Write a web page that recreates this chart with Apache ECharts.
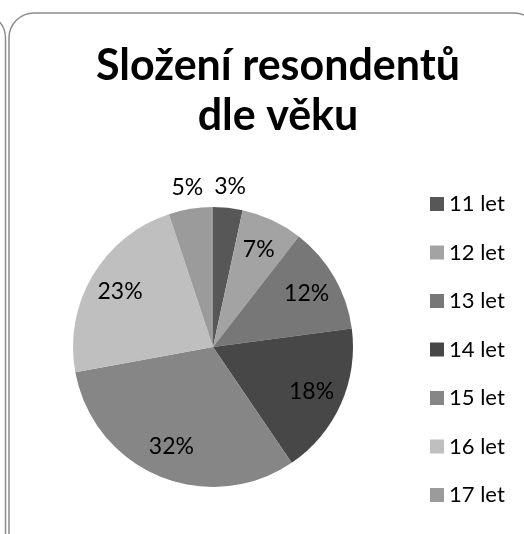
<!DOCTYPE html>
<html>
<head>
<meta charset="utf-8">
<script src="https://cdn.jsdelivr.net/npm/echarts@6/dist/echarts.min.js"></script>
<style>
  html, body { margin: 0; padding: 0; background: #fff; }
  #chart { width: 524px; height: 534px; }
</style>
</head>
<body>
<div id="chart"></div>
<script>
// age groups and their share of respondents
const categories = ["11 let", "12 let", "13 let", "14 let", "15 let", "16 let", "17 let"];
const shares = [3.4, 7.1, 12.4, 17.6, 31.6, 22.8, 5.1];
const colors = ["#575757", "#a3a3a3", "#777777", "#474747", "#868686", "#bfbfbf", "#9b9b9b"];
// the two thin slices get their labels above the pie
const outerLabelled = ["11 let", "17 let"];

const chart = echarts.init(document.getElementById("chart"));

const pieData = categories.map((name, i) => ({
  name: name,
  value: shares[i],
  itemStyle: { color: colors[i] },
}));

const labelFont = {
  fontFamily: "Lato",
  fontSize: 22,
  color: "#000",
};

// invisible copies of the pie, only used to place labels at other radii
const overlay = (radius, showFor) => ({
  type: "pie",
  center: [213, 347],
  radius: radius,
  startAngle: 90,
  clockwise: true,
  silent: true,
  percentPrecision: 0,
  avoidLabelOverlap: false,
  itemStyle: { color: "rgba(0,0,0,0)" },
  emphasis: { disabled: true },
  labelLine: { show: false },
  labelLayout: { hideOverlap: false },
  data: categories.map((name, i) => ({
    name: name,
    value: shares[i],
    label: { show: showFor(name) },
  })),
  label: Object.assign({ position: "inside", formatter: "{d}%" }, labelFont, { fontSize: 23 }),
});

const option = {
  animation: false,
  title: {
    text: "Složení resondentů\ndle věku",
    left: 273,
    top: 36,
    textAlign: "center",
    textStyle: {
      fontFamily: "Lato",
      fontWeight: "bold",
      fontSize: 43,
      lineHeight: 50,
      color: "#000",
    },
  },
  legend: {
    orient: "vertical",
    left: 425,
    top: 188,
    icon: "rect",
    itemWidth: 14,
    itemHeight: 14,
    itemGap: 26.5,
    data: categories,
    textStyle: labelFont,
    selectedMode: false,
  },
  graphic: [
    {
      // neighbouring frame, cut off on the left
      type: "rect",
      shape: { x: -300, y: 13, width: 305.5, height: 560, r: 25 },
      style: { fill: "none", stroke: "#8c8c8c", lineWidth: 1.5 },
    },
    {
      // chart frame
      type: "rect",
      shape: { x: 9, y: 13, width: 530, height: 560, r: 25 },
      style: { fill: "none", stroke: "#8c8c8c", lineWidth: 1.5 },
    },
  ],
  series: [
    {
      type: "pie",
      center: [213, 347],
      radius: 140,
      startAngle: 90,
      clockwise: true,
      silent: true,
      label: { show: false },
      labelLine: { show: false },
      emphasis: { disabled: true },
      data: pieData,
    },
    overlay([70, 140], (name) => outerLabelled.indexOf(name) < 0),
    overlay([140, 176], (name) => outerLabelled.indexOf(name) >= 0),
  ],
};

chart.setOption(option);
</script>
</body>
</html>
